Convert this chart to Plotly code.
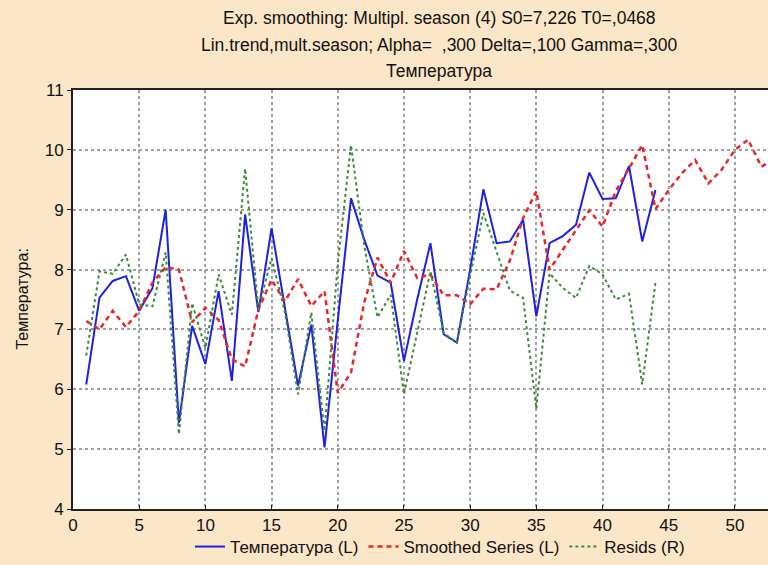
import plotly.graph_objects as go

# Observed temperature series (left axis)
t_obs = list(range(1, 45))
temperature = [6.08, 7.53, 7.81, 7.89, 7.31, 7.69, 9.00, 5.44, 7.06, 6.42,
               7.64, 6.14, 8.92, 7.29, 8.69, 7.39, 6.06, 7.08, 5.03, 7.15,
               9.19, 8.50, 7.90, 7.78, 6.47, 7.50, 8.44, 6.92, 6.78, 8.00,
               9.34, 8.44, 8.47, 8.83, 7.22, 8.44, 8.56, 8.75, 9.62, 9.18,
               9.19, 9.73, 8.47, 9.33]

# Smoothed series incl. forecast horizon (left axis)
t_smooth = list(range(1, 54))
smoothed = [7.14, 7.00, 7.31, 7.04, 7.31, 7.78, 8.04, 8.00, 7.12, 7.36,
            7.16, 6.50, 6.38, 7.33, 7.83, 7.47, 7.84, 7.39, 7.64, 5.94,
            6.28, 7.45, 8.20, 7.78, 8.31, 7.86, 7.92, 7.57, 7.57, 7.42,
            7.68, 7.67, 8.15, 8.86, 9.31, 8.00, 8.33, 8.67, 8.99, 8.72,
            9.31, 9.69, 10.08, 9.01, 9.33, 9.61, 9.83, 9.44, 9.67, 10.00,
            10.17, 9.72, 9.85]

# Residuals (right axis)
resids = [-1.07, 0.54, 0.49, 0.86, -0.09, -0.13, 0.90, -2.57, -0.07, -0.93,
          0.48, -0.29, 2.50, -0.19, 0.79, -0.23, -1.81, -0.25, -2.51, 0.69,
          2.95, 1.03, -0.34, 0.09, -1.81, -0.64, 0.54, -0.64, -0.82, 0.45,
          1.65, 0.91, 0.17, 0.03, -2.09, 0.50, 0.22, 0.03, 0.64, 0.48,
          0.00, 0.11, -1.62, 0.33]

x_ticks = list(range(0, 55, 5))
y_ticks = list(range(4, 12))

title_lines = [
    "Exp. smoothing: Multipl. season (4) S0=7,226 T0=,0468",
    "Lin.trend,mult.season; Alpha=  ,300 Delta=,100 Gamma=,300",
    "Температура",
]
title_rows_px = [18, 45, 71]

FONT = "Liberation Sans, Arial"
BG = "#FCE6C8"
GRID = "#a0a0a0"

fig = go.Figure()
fig.add_trace(go.Scatter(x=t_obs, y=temperature, mode="lines",
                         name="Температура (L)",
                         line=dict(color="#2020e0", width=2)))
fig.add_trace(go.Scatter(x=t_smooth, y=smoothed, mode="lines",
                         name="Smoothed Series (L)",
                         line=dict(color="#e8262a", width=2.5, dash="5px,4px")))
fig.add_trace(go.Scatter(x=t_obs, y=resids, mode="lines", yaxis="y2",
                         name="Resids (R)",
                         line=dict(color="#3c8a3c", width=2, dash="dot")))

fig.update_layout(
    width=768, height=565,
    paper_bgcolor=BG, plot_bgcolor="white",
    margin=dict(l=73, r=0, t=90, b=55),
    font=dict(family=FONT, size=17, color="#111111"),
    showlegend=True,
    legend=dict(orientation="h", x=0.528, xanchor="center", y=-0.09,
                yanchor="middle", bgcolor="rgba(0,0,0,0)",
                font=dict(family=FONT, size=17), itemwidth=30),
    xaxis=dict(range=[0, 52.5], tickvals=x_ticks, showgrid=True,
               gridcolor=GRID, griddash="dot", gridwidth=1.5,
               showline=True, linecolor="#222222", linewidth=2, mirror=True,
               ticks="inside", ticklen=4, tickcolor="#222222",
               zeroline=False, tickfont=dict(size=17)),
    yaxis=dict(range=[4, 11], tickvals=y_ticks, showgrid=True,
               gridcolor=GRID, griddash="dot", gridwidth=1.5,
               showline=True, linecolor="#222222", linewidth=2,
               ticks="outside", ticklen=4, tickcolor="#222222",
               zeroline=False, tickfont=dict(size=17)),
    yaxis2=dict(range=[-4, 4], overlaying="y", side="right", visible=False),
)

for line, py in zip(title_lines, title_rows_px):
    fig.add_annotation(text=line, xref="paper", yref="paper",
                       x=(439 - 73) / 695, y=1 + (90 - py) / 420,
                       xanchor="center", yanchor="middle", showarrow=False,
                       font=dict(family=FONT, size=17.5, color="#111111"))

fig.add_annotation(text="Температура:", xref="paper", yref="paper",
                   x=(22 - 73) / 695, y=0.5, textangle=-90,
                   xanchor="center", yanchor="middle", showarrow=False,
                   font=dict(family=FONT, size=16, color="#111111"))

fig.write_html("out.html")
